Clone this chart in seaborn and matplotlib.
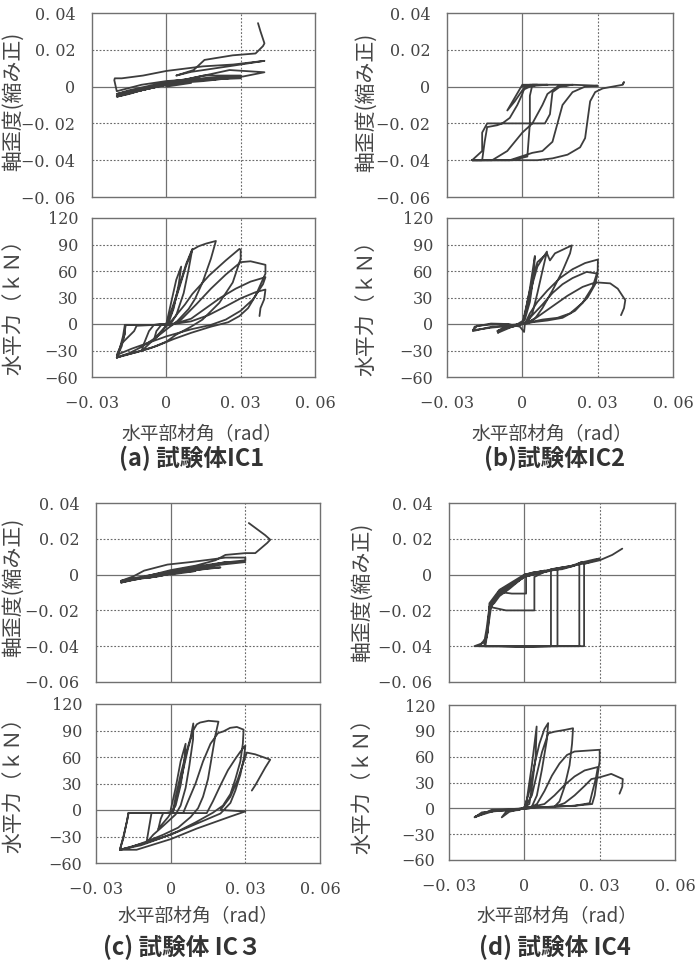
import matplotlib
matplotlib.use("Agg")
import matplotlib.pyplot as plt
import seaborn as sns
import pandas as pd

# ---------------- data ----------------
# horizontal member angle (rad) vs axial strain, path of each specimen
ic1_strain = [(0,0),(0.005,0.001),(0.01,0.002),(0.005,0.002),(0,0.0015),(-0.005,-0.0005),(-0.01,-0.002),
    (-0.005,-0.0005),(0,0.001),(0.01,0.003),(0.02,0.004),(0.015,0.0035),(0.01,0.003),(0.0,0.0015),
    (-0.01,-0.002),(-0.02,-0.0055),(-0.015,-0.004),(-0.01,-0.002),(0.0,0.002),(0.01,0.004),(0.02,0.005),
    (0.03,0.0055),(0.025,0.0045),(0.015,0.003),(0.005,0.002),(-0.005,-0.0005),(-0.02,-0.005),
    (-0.01,-0.0015),(0.0,0.0025),(0.008,0.004),(0.015,0.006),(0.025,0.006),(0.03,0.006),(0.03,0.0045),
    (0.02,0.004),(0.01,0.003),(0.0,0.001),(-0.01,-0.001),(-0.02,-0.004),(-0.015,-0.002),(-0.005,0.001),
    (0.005,0.003),(0.0255,0.009),(0.0396,0.0078),(0.031,0.0055),(0.02,0.0045),(0.01,0.004),(0.0,0.003),
    (-0.01,0.001),(-0.02,-0.0025),(-0.021,0.0035),(-0.0208,0.0045),(-0.018,0.0045),(-0.0094,0.006),
    (0.0,0.0085),(0.0148,0.011),(0.027,0.012),(0.0396,0.014),(0.030,0.012),(0.02,0.01),(0.01,0.008),
    (0.004,0.006),(0.011,0.009),(0.0154,0.0145),(0.0268,0.017),(0.036,0.018),(0.039,0.022),
    (0.0396,0.0235),(0.038,0.03),(0.037,0.0345)]

ic2_strain = [(0,0),(0.003,0.001),(0.006,0.001),(0.003,0.0),(0,-0.002),(-0.003,-0.008),(-0.006,-0.013),
    (-0.003,-0.006),(0,0.001),(0.005,0.001),(0.01,0.001),(0.005,0.0005),(0.001,0),(0.0,-0.004),
    (-0.002,-0.01),(-0.005,-0.017),(-0.008,-0.02),(-0.01,-0.021),(-0.014,-0.022),(-0.015,-0.03),
    (-0.016,-0.04),(-0.02,-0.04),(-0.018,-0.04),(-0.01,-0.04),(-0.004,-0.04),(0.002,-0.038),
    (0.003,-0.02),(0.003,-0.005),(0.004,0.001),(0.01,0.001),(0.02,0.001),(0.015,0.0),(0.012,-0.003),
    (0.011,-0.015),(0.009,-0.02),(0.003,-0.02),(-0.005,-0.02),(-0.014,-0.02),(-0.016,-0.025),
    (-0.016,-0.035),(-0.02,-0.04),(-0.012,-0.04),(-0.006,-0.035),(0.0,-0.025),(0.004,-0.02),
    (0.008,-0.01),(0.01,-0.004),(0.014,0.0),(0.02,0.001),(0.03,0.0005),(0.025,0),(0.02,-0.003),
    (0.016,-0.01),(0.014,-0.02),(0.012,-0.03),(0.008,-0.035),(0.004,-0.036),(-0.005,-0.04),
    (-0.02,-0.04),(-0.01,-0.04),(0.0,-0.04),(0.006,-0.04),(0.012,-0.039),(0.018,-0.037),
    (0.023,-0.033),(0.025,-0.028),(0.026,-0.018),(0.027,-0.008),(0.029,-0.003),(0.032,-0.001),
    (0.036,0.0),(0.040,0.001),(0.0405,0.0025),(0.040,0.0015)]

ic3_strain = [(0,0),(0.005,0.001),(0.01,0.002),(0.005,0.0015),(0.0,0.0005),(-0.005,-0.001),(-0.01,-0.002),
    (-0.005,-0.0008),(0.0,0.0005),(0.01,0.0025),(0.02,0.004),(0.015,0.0035),(0.005,0.0015),
    (-0.005,-0.0008),(-0.02,-0.004),(-0.015,-0.0025),(-0.005,-0.0005),(0.005,0.002),(0.015,0.004),
    (0.02,0.0055),(0.03,0.007),(0.022,0.007),(0.015,0.005),(0.005,0.003),(-0.005,0.0005),
    (-0.015,-0.002),(-0.02,-0.0035),(-0.015,-0.001),(-0.0107,0.0022),(-0.0013,0.0056),(0.008,0.007),
    (0.016,0.0084),(0.022,0.0095),(0.03,0.0095),(0.03,0.008),(0.02,0.0065),(0.01,0.0045),(0.0,0.002),
    (-0.01,-0.0015),(-0.02,-0.0045),(-0.01,-0.001),(0.0,0.0025),(0.01,0.005),(0.018,0.008),
    (0.022,0.011),(0.03,0.012),(0.034,0.012),(0.0388,0.0177),(0.040,0.0195),(0.038,0.022),
    (0.0314,0.0288)]

ic4_strain = [(0,0),(0.003,0.001),(0.005,0.0015),(0.002,0.0),(0.0,-0.0013),(-0.004,-0.005),
    (-0.0099,-0.0097),(-0.005,-0.0106),(0.0,-0.0106),(0.0007,-0.0106),(0.0007,-0.001),(0.003,0.001),
    (0.008,0.0022),(0.004,0.0008),(0.0,-0.001),(-0.006,-0.008),(-0.0099,-0.012),(-0.012,-0.016),
    (-0.0139,-0.018),(-0.0073,-0.02),(0.004,-0.02),(0.004,-0.0013),(0.008,0.0015),(0.0106,0.0024),
    (0.006,0.001),(0.0,-0.0013),(-0.006,-0.007),(-0.011,-0.012),(-0.0139,-0.018),(-0.015,-0.03),
    (-0.016,-0.038),(-0.0199,-0.04),(-0.01,-0.04),(0.0,-0.0405),(0.0106,-0.04),(0.0106,-0.02),
    (0.0106,0.003),(0.015,0.004),(0.02,0.005),(0.015,0.003),(0.0099,0.0024),(0.0,-0.0013),
    (-0.0099,-0.0097),(-0.0139,-0.02),(-0.015,-0.035),(-0.018,-0.04),(-0.005,-0.04),(0.0132,-0.04),
    (0.0132,-0.01),(0.0132,0.003),(0.02,0.005),(0.023,0.007),(0.018,0.0045),(0.01,0.002),
    (0.0,-0.001),(-0.0099,-0.009),(-0.013,-0.016),(-0.0145,-0.03),(-0.0155,-0.04),(-0.01,-0.04),
    (0.01,-0.04),(0.0219,-0.04),(0.0219,-0.01),(0.0219,0.0065),(0.028,0.0085),(0.03,0.009),
    (0.025,0.0065),(0.015,0.004),(0.0,0.0),(-0.0099,-0.0085),(-0.0139,-0.016),(-0.0145,-0.032),
    (-0.016,-0.04),(0.01,-0.04),(0.0238,-0.04),(0.0238,-0.015),(0.0238,0.006),(0.03,0.008),
    (0.035,0.011),(0.039,0.0145)]

# horizontal member angle (rad) vs horizontal force (kN)
ic1_force = [(0,0),(0.002,25),(0.004,50),(0.006,65),(0.005,45),(0.003,18),(0.001,2),(-0.001,-5),
    (-0.003,-12),(-0.005,-18),(-0.004,-8),(-0.002,-1),(0.0,0),
    (0.002,15),(0.004,32),(0.006,50),(0.008,68),(0.0105,85),(0.009,62),(0.007,35),(0.004,10),(0.001,0),
    (-0.002,-8),(-0.006,-20),(-0.009,-28),(-0.010,-31),(-0.009,-22),(-0.007,-8),(-0.005,-1),(0.0,0),
    (0.002,12),(0.004,30),(0.006,48),(0.008,66),(0.0105,84),(0.013,88),(0.016,91),(0.020,94),(0.018,74),
    (0.0146,47),(0.0115,28),(0.009,17),(0.006,8),(0.004,2),(0.001,-4),(-0.004,-15),(-0.010,-26),
    (-0.015,-33),(-0.020,-38),(-0.019,-30),(-0.0175,-14),(-0.0168,-2),(-0.0168,-1),(-0.010,-1),
    (-0.004,-1),(0.0015,-1),
    (0.004,10),(0.0075,22),(0.0105,34),(0.0173,55),(0.024,72),(0.0295,85),(0.030,84),(0.030,74),
    (0.0268,47),(0.0214,24),(0.0146,5),(0.010,-3),(0.004,-12),(0.0,-20),(-0.006,-27),(-0.012,-32),
    (-0.018,-36),(-0.020,-38),(-0.018,-25),(-0.0168,-10),(-0.0165,-1),(-0.008,-1),(0.002,-1),
    (0.006,5),(0.012,22),(0.018,40),(0.024,56),(0.030,70),(0.034,71),(0.040,67),(0.040,57),(0.036,32),
    (0.033,18),(0.0295,9),(0.025,2),(0.018,-3),(0.010,-10),(0.003,-17),(-0.004,-25),(-0.010,-30),
    (-0.016,-35),(-0.020,-38),(-0.019,-30),(-0.0168,-12),(-0.0165,-1),(-0.005,-1),(0.003,0),
    (0.010,6),(0.016,18),(0.022,30),(0.028,40),(0.034,48),(0.040,53),(0.039,45),(0.035,28),(0.030,15),
    (0.024,5),(0.018,-1),(0.010,-6),(0.0,-14),(-0.008,-22),(-0.014,-28),(-0.020,-35),(-0.018,-22),
    (-0.013,-8),(-0.012,-2),(-0.004,-1),(0.003,0),
    (0.010,3),(0.017,10),(0.024,20),(0.030,29),(0.036,36),(0.040,39),(0.0395,28),(0.038,18),(0.0376,9)]

ic2_force = [(0,0),(0.001,10),(0.003,40),(0.005,77),(0.0045,55),(0.003,25),(0.001,5),(-0.003,-2),
    (-0.008,-5),(-0.010,-8),(-0.006,-4),(-0.002,-2),(0.0,0),
    (0.002,20),(0.004,45),(0.006,65),(0.0098,82),(0.008,60),(0.006,35),(0.004,12),(0.002,3),
    (-0.004,-3),(-0.0098,-10),(-0.008,-6),(-0.004,-3),(0.0,0),
    (0.002,25),(0.004,50),(0.006,70),(0.0098,80),(0.011,72),(0.013,80),(0.016,84),(0.0197,89),
    (0.019,80),(0.016,60),(0.012,38),(0.008,18),(0.005,6),(0.002,1),(-0.004,-1),(-0.012,-3),
    (-0.0197,-8),(-0.019,-3),(-0.0125,0.5),(-0.006,0),(-0.001,-3),(0.0007,-9),(0.001,0),
    (0.003,12),(0.006,25),(0.010,38),(0.015,52),(0.020,62),(0.025,69),(0.0301,73),(0.030,60),
    (0.028,42),(0.024,24),(0.019,12),(0.014,7),(0.008,5),(0.003,2),(-0.004,-2),(-0.012,-4),
    (-0.0197,-7),(-0.018,-2),(-0.010,0),(-0.003,-1),(0.001,0),
    (0.004,10),(0.008,22),(0.012,35),(0.016,45),(0.020,52),(0.0256,59),(0.030,57),(0.029,45),
    (0.026,30),(0.021,15),(0.016,7),(0.010,4),(0.004,2),(0.001,0),
    (0.006,8),(0.012,20),(0.018,32),(0.024,42),(0.028,46),(0.030,47),(0.035,46),(0.038,40),
    (0.041,27),(0.0405,18),(0.0393,10)]

ic3_force = [(0,0),(0.002,25),(0.004,55),(0.006,75),(0.0055,55),(0.004,28),(0.002,5),(-0.001,-8),
    (-0.004,-18),(-0.005,-22),(-0.004,-10),(-0.003,-3.5),(0.0,-3),(0.001,0),
    (0.002,15),(0.004,40),(0.006,62),(0.008,82),(0.0091,98),(0.009,80),(0.0075,50),(0.006,25),
    (0.004,5),(0.002,-5),(-0.003,-18),(-0.007,-28),(-0.0097,-37),(-0.009,-25),(-0.0077,-3.5),
    (-0.002,-3.5),(0.001,-2),
    (0.003,20),(0.005,45),(0.007,70),(0.009,90),(0.0105,97),(0.0118,99),(0.0152,101),(0.0192,100),
    (0.018,85),(0.0165,60),(0.015,35),(0.013,15),(0.011,2),(0.008,-8),(0.003,-20),(-0.003,-28),
    (-0.010,-36),(-0.016,-42),(-0.0204,-45),(-0.019,-30),(-0.0175,-12),(-0.017,-3.5),(-0.008,-3.5),
    (0.0,-3.5),(0.005,-3.5),
    (0.007,10),(0.010,30),(0.013,55),(0.016,75),(0.019,87),(0.0212,89),(0.0239,93),(0.0266,94),
    (0.0293,91),(0.029,75),(0.028,55),(0.026,35),(0.024,18),(0.021,5),(0.017,-3),(0.010,-14),
    (0.003,-24),(-0.004,-32),(-0.012,-40),(-0.0204,-45),(-0.019,-32),(-0.017,-5),(-0.017,-3.5),
    (0.0,-3.5),(0.0145,-3.5),
    (0.017,10),(0.020,28),(0.023,45),(0.026,58),(0.028,66),(0.030,73),(0.0295,60),(0.028,40),
    (0.026,22),(0.024,8),(0.020,-4),(0.010,-16),(0.0,-28),(-0.010,-37),(-0.0204,-45),(-0.0137,-45),
    (0.0,-33),(0.0105,-21),(0.0239,-7.5),(0.030,-1.6),(0.020,0),
    (0.024,15),(0.027,35),(0.029,52),(0.0306,65),(0.034,63),(0.037,60),(0.040,57),(0.038,48),
    (0.036,38),(0.034,28),(0.0326,22)]

ic4_force = [(0,0),(0.001,10),(0.003,50),(0.0049,95),(0.0045,60),(0.003,25),(0.002,5),(-0.002,-2),
    (-0.007,-3),(-0.009,-10.5),(-0.006,-4),(-0.002,-1),(0.0,0),
    (0.002,20),(0.004,50),(0.006,75),(0.008,92),(0.0095,99),(0.009,80),(0.007,45),(0.005,15),
    (0.003,2),(-0.003,-1),(-0.010,-3),(-0.0169,-4.7),(-0.0198,-10.5),(-0.017,-7),(-0.0129,-1.6),
    (-0.006,-1),(0.0,0),
    (0.003,15),(0.005,40),(0.007,65),(0.0095,87),(0.012,89),(0.016,91),(0.0194,93),(0.019,75),
    (0.018,50),(0.016,25),(0.014,8),(0.012,2),(0.005,1),(-0.005,-2),(-0.012,-3),(-0.0198,-10),
    (-0.016,-5),(-0.010,-2),(-0.003,-1),(0.002,0),
    (0.005,5),(0.008,20),(0.011,38),(0.014,52),(0.017,62),(0.020,66),(0.025,67),(0.030,68),
    (0.030,55),(0.029,35),(0.028,15),(0.027,5),(0.020,3),(0.012,2),(0.004,1),(0.0,0),
    (0.008,5),(0.012,15),(0.016,27),(0.020,37),(0.024,44),(0.0293,48),(0.0285,35),(0.027,18),
    (0.026,6),(0.020,3),(0.012,2),
    (0.016,6),(0.020,15),(0.024,26),(0.0267,34),(0.030,36),(0.0346,40),(0.0392,34),(0.039,25),
    (0.0379,17)]

x_ticks = [-0.03, 0, 0.03, 0.06]
x_ticklabels = ["\u22120. 03", "0", "0. 03", "0. 06"]
strain_ticks = [0.04, 0.02, 0, -0.02, -0.04, -0.06]
strain_ticklabels = ["0. 04", "0. 02", "0", "\u22120. 02", "\u22120. 04", "\u22120. 06"]
force_ticks = [120, 90, 60, 30, 0, -30, -60]
force_ticklabels = ["120", "90", "60", "30", "0", "\u221230", "\u221260"]

strain_label = "軸歪度(縮み正)"
force_label = "水平力（ｋＮ）"
angle_label = "水平部材角（rad）"
captions = ["(a) 試験体IC1", "(b)試験体IC2", "(c) 試験体 IC３", "(d) 試験体 IC4"]

# ---------------- style ----------------
sns.set_style("white")
plt.rcParams['font.family'] = ['Noto Sans CJK JP', 'DejaVu Sans']

W, H = 697, 960
fig = plt.figure(figsize=(W / 100, H / 100), dpi=100)
fig.patch.set_facecolor("white")

LINE = "#3d3d3d"
SPINE = "#707070"
GRID = "#6a6a6a"
TXT = "#454545"


def add_ax(l, t, r, b):
    return fig.add_axes([l / W, 1 - b / H, (r - l) / W, (b - t) / H])


def style_axes(ax, yticks, yticklabels, ylim, ygrid, show_x, ypad):
    ax.set_xlim(-0.03, 0.06)
    ax.set_ylim(*ylim)
    ax.set_xticks(x_ticks)
    ax.set_xticklabels(x_ticklabels if show_x else ["" for _ in x_ticks],
                       fontfamily="DejaVu Serif", fontsize=11.5, color=TXT)
    ax.set_yticks(yticks)
    ax.set_yticklabels(yticklabels, fontfamily="DejaVu Serif", fontsize=11.5, color=TXT)
    ax.tick_params(axis="x", length=0, pad=13)
    ax.tick_params(axis="y", length=0, pad=ypad)
    ax.set_xlabel("")
    ax.set_ylabel("")
    for s in ax.spines.values():
        s.set_color(SPINE)
        s.set_linewidth(1.0)
    for g in ygrid:
        ax.axhline(g, color=GRID, lw=0.8, ls=(0, (1.6, 1.6)), zorder=1)
    ax.axhline(0, color=SPINE, lw=0.9, zorder=1)
    ax.axvline(0, color=SPINE, lw=0.9, zorder=1)
    ax.axvline(0.03, color=GRID, lw=0.8, ls=(0, (1.6, 1.6)), zorder=1)


def draw(ax, path):
    df = pd.DataFrame(path, columns=["angle", "value"])
    sns.lineplot(data=df, x="angle", y="value", sort=False, estimator=None,
                 ax=ax, color=LINE, linewidth=1.3, legend=False, zorder=3)


panels = [
    dict(strain=ic1_strain, force=ic1_force, top=(92, 13, 315, 197), bot=(92, 218, 315, 377),
         ylab_x=13, ylab_top_y=101, ylab_bot_y=302, xlab=(202, 435), cap=(192, 458)),
    dict(strain=ic2_strain, force=ic2_force, top=(447, 13, 673, 197), bot=(447, 218, 673, 377),
         ylab_x=366, ylab_top_y=102, ylab_bot_y=303, xlab=(552, 435), cap=(555, 458)),
    dict(strain=ic3_strain, force=ic3_force, top=(96, 503, 320, 682), bot=(96, 704, 320, 863),
         ylab_x=13, ylab_top_y=587, ylab_bot_y=780, xlab=(198, 917), cap=(182, 947)),
    dict(strain=ic4_strain, force=ic4_force, top=(449, 503, 675, 682), bot=(449, 705, 675, 860),
         ylab_x=362, ylab_top_y=592, ylab_bot_y=781, xlab=(557, 917), cap=(555, 947)),
]

for p, cap in zip(panels, captions):
    ax1 = add_ax(*p["top"])
    draw(ax1, p["strain"])
    style_axes(ax1, strain_ticks, strain_ticklabels, (-0.06, 0.04), [0.02, -0.02, -0.04], False, 12)

    ax2 = add_ax(*p["bot"])
    draw(ax2, p["force"])
    style_axes(ax2, force_ticks, force_ticklabels, (-60, 120), [90, 60, 30, -30], True, 10)

    fig.text(p["ylab_x"] / W, 1 - p["ylab_top_y"] / H, strain_label, rotation=90,
             ha="center", va="center", fontsize=15, color=TXT)
    fig.text(p["ylab_x"] / W, 1 - p["ylab_bot_y"] / H, force_label, rotation=90,
             ha="center", va="center", fontsize=15, color=TXT)
    fig.text(p["xlab"][0] / W, 1 - p["xlab"][1] / H, angle_label,
             ha="center", va="center", fontsize=13.5, color=TXT)
    fig.text(p["cap"][0] / W, 1 - p["cap"][1] / H, cap,
             ha="center", va="center", fontsize=17, color="#333333", fontweight="bold")

fig.savefig("out.png", dpi=100, facecolor="white")
